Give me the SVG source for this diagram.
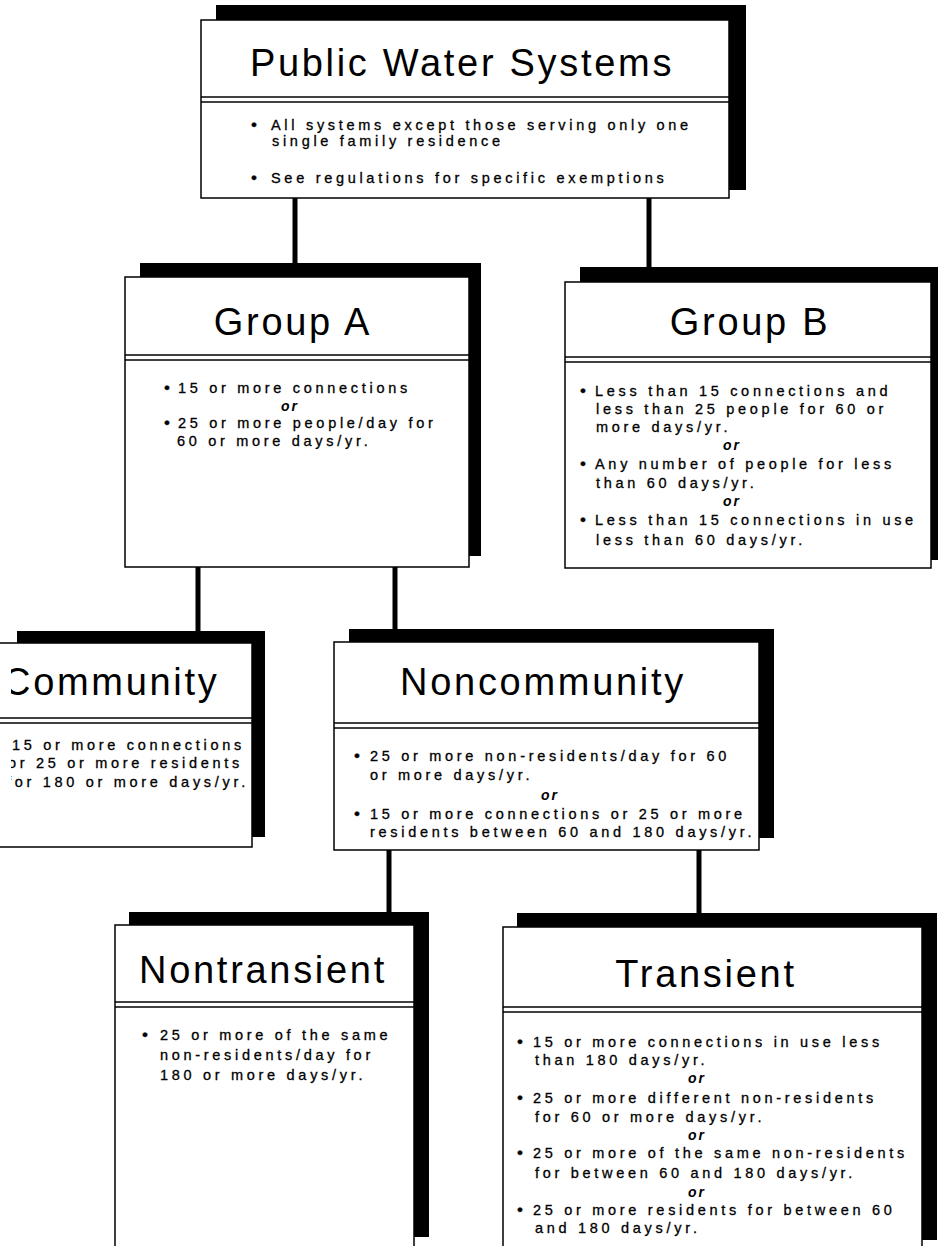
<svg xmlns="http://www.w3.org/2000/svg" width="938" height="1246" viewBox="0 0 938 1246">
<style>
.shadow{fill:#000;stroke:none}
.front{fill:#fff;stroke:#000;stroke-width:1.5}
.div{stroke:#000;stroke-width:1.5;fill:none}
.conn{stroke:#000;stroke-width:5;fill:none}
.title{font-family:"Liberation Sans",Arial,Helvetica,sans-serif;font-size:38px;letter-spacing:2.7px;fill:#000;text-anchor:middle}
.body{font-family:"Liberation Sans",Arial,Helvetica,sans-serif;font-size:14.5px;letter-spacing:3.7px;fill:#000;stroke:#000;stroke-width:0.3}
.bul{font-size:17px}
.or{font-family:"Liberation Sans",Arial,Helvetica,sans-serif;font-size:14px;letter-spacing:2px;font-style:italic;font-weight:bold;fill:#000;text-anchor:middle}
</style>
<defs>
<clipPath id="clipComm"><rect x="11" y="640" width="260" height="215"/></clipPath>
</defs>
<rect x="0" y="0" width="938" height="1246" fill="#fff"/>
<g id="connectors">
<line class="conn" x1="295" y1="197" x2="295" y2="266"/>
<line class="conn" x1="649" y1="197" x2="649" y2="270"/>
<line class="conn" x1="198" y1="566" x2="198" y2="634"/>
<line class="conn" x1="395" y1="566" x2="395" y2="631"/>
<line class="conn" x1="389" y1="849" x2="389" y2="914"/>
<line class="conn" x1="699" y1="849" x2="699" y2="915"/>
</g>
<g id="public-water-systems">
<rect class="shadow" x="216" y="5" width="530" height="185"/>
<rect class="front" x="201" y="20" width="528" height="178"/>
<line class="div" x1="201" y1="97" x2="729" y2="97"/>
<line class="div" x1="201" y1="102" x2="729" y2="102"/>
<text class="title" x="462" y="76">Public Water Systems</text>
<text class="body" x="251" y="130"><tspan class="bul">•</tspan><tspan x="271">All systems except those serving only one</tspan></text>
<text class="body" x="272" y="146">single family residence</text>
<text class="body" x="251" y="183"><tspan class="bul">•</tspan><tspan x="271">See regulations for specific exemptions</tspan></text>
</g>
<g id="group-a">
<rect class="shadow" x="140" y="263" width="341" height="293"/>
<rect class="front" x="125" y="277" width="344" height="290"/>
<line class="div" x1="125" y1="355" x2="469" y2="355"/>
<line class="div" x1="125" y1="360" x2="469" y2="360"/>
<text class="title" x="293" y="335">Group A</text>
<text class="body" x="164" y="393"><tspan class="bul">•</tspan><tspan x="178">15 or more connections</tspan></text>
<text class="or" x="290" y="411">or</text>
<text class="body" x="164" y="428"><tspan class="bul">•</tspan><tspan x="178">25 or more people/day for</tspan></text>
<text class="body" x="177" y="446">60 or more days/yr.</text>
</g>
<g id="group-b">
<rect class="shadow" x="580" y="267" width="380" height="293"/>
<rect class="front" x="565" y="282" width="366" height="286"/>
<line class="div" x1="565" y1="357" x2="931" y2="357"/>
<line class="div" x1="565" y1="362" x2="931" y2="362"/>
<text class="title" x="750" y="335">Group B</text>
<text class="body" x="580" y="396"><tspan class="bul">•</tspan><tspan x="595">Less than 15 connections and</tspan></text>
<text class="body" x="596" y="414">less than 25 people for 60 or</text>
<text class="body" x="596" y="432">more days/yr.</text>
<text class="or" x="732" y="450">or</text>
<text class="body" x="580" y="469"><tspan class="bul">•</tspan><tspan x="595">Any number of people for less</tspan></text>
<text class="body" x="596" y="488">than 60 days/yr.</text>
<text class="or" x="732" y="506">or</text>
<text class="body" x="580" y="525"><tspan class="bul">•</tspan><tspan x="595">Less than 15 connections in use</tspan></text>
<text class="body" x="596" y="545">less than 60 days/yr.</text>
</g>
<g id="community">
<rect class="shadow" x="17" y="631" width="248" height="206"/>
<rect class="front" x="-20" y="643" width="272" height="204"/>
<line class="div" x1="0" y1="718" x2="252" y2="718"/>
<line class="div" x1="0" y1="723" x2="252" y2="723"/>
<g clip-path="url(#clipComm)">
<text class="title" x="3" y="695" style="text-anchor:start">Community</text>
<text class="body" x="12" y="750">15 or more connections</text>
<text class="body" x="8" y="768">or 25 or more residents</text>
<text class="body" x="7" y="787">for 180 or more days/yr.</text>
</g>
</g>
<g id="noncommunity">
<rect class="shadow" x="349" y="629" width="425" height="209"/>
<rect class="front" x="334" y="642" width="425" height="208"/>
<line class="div" x1="334" y1="723" x2="759" y2="723"/>
<line class="div" x1="334" y1="728" x2="759" y2="728"/>
<text class="title" x="543" y="695">Noncommunity</text>
<text class="body" x="354" y="761"><tspan class="bul">•</tspan><tspan x="370">25 or more non-residents/day for 60</tspan></text>
<text class="body" x="370" y="780">or more days/yr.</text>
<text class="or" x="550" y="800">or</text>
<text class="body" x="354" y="819"><tspan class="bul">•</tspan><tspan x="370">15 or more connections or 25 or more</tspan></text>
<text class="body" x="370" y="837">residents between 60 and 180 days/yr.</text>
</g>
<g id="nontransient">
<rect class="shadow" x="129" y="912" width="300" height="325"/>
<rect class="front" x="115" y="925" width="299" height="400"/>
<line class="div" x1="115" y1="1002" x2="414" y2="1002"/>
<line class="div" x1="115" y1="1007" x2="414" y2="1007"/>
<text class="title" x="263" y="983">Nontransient</text>
<text class="body" x="142" y="1040"><tspan class="bul">•</tspan><tspan x="160">25 or more of the same</tspan></text>
<text class="body" x="160" y="1060">non-residents/day for</text>
<text class="body" x="160" y="1080">180 or more days/yr.</text>
</g>
<g id="transient">
<rect class="shadow" x="517" y="913" width="420" height="327"/>
<rect class="front" x="503" y="927" width="419" height="400"/>
<line class="div" x1="503" y1="1007" x2="922" y2="1007"/>
<line class="div" x1="503" y1="1012" x2="922" y2="1012"/>
<text class="title" x="706" y="987">Transient</text>
<text class="body" x="517" y="1047"><tspan class="bul">•</tspan><tspan x="533">15 or more connections in use less</tspan></text>
<text class="body" x="535" y="1065">than 180 days/yr.</text>
<text class="or" x="697" y="1083">or</text>
<text class="body" x="517" y="1103"><tspan class="bul">•</tspan><tspan x="533">25 or more different non-residents</tspan></text>
<text class="body" x="535" y="1122">for 60 or more days/yr.</text>
<text class="or" x="697" y="1140">or</text>
<text class="body" x="517" y="1158"><tspan class="bul">•</tspan><tspan x="533">25 or more of the same non-residents</tspan></text>
<text class="body" x="535" y="1178">for between 60 and 180 days/yr.</text>
<text class="or" x="697" y="1197">or</text>
<text class="body" x="517" y="1215"><tspan class="bul">•</tspan><tspan x="533">25 or more residents for between 60</tspan></text>
<text class="body" x="535" y="1233">and 180 days/yr.</text>
</g>
</svg>
